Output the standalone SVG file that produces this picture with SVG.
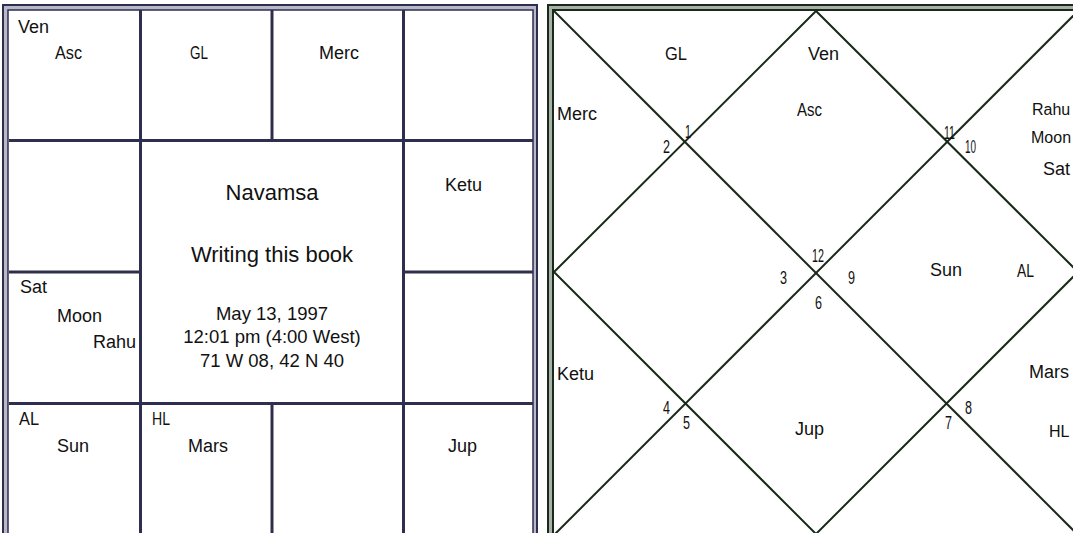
<svg xmlns="http://www.w3.org/2000/svg" width="1073" height="533" viewBox="0 0 1073 533">
<style>
.p{font-family:"Liberation Sans",Arial,sans-serif;font-size:18px;fill:#111}
.c{font-family:"Liberation Sans",Arial,sans-serif;font-size:19px;fill:#111}
.d{font-family:"Liberation Sans",Arial,sans-serif;font-size:18px;fill:#111}
.big{font-family:"Liberation Sans",Arial,sans-serif;font-size:22px;fill:#111;text-anchor:middle}
.mid{font-family:"Liberation Sans",Arial,sans-serif;font-size:18.5px;fill:#111;text-anchor:middle}
.edge{font-family:"Liberation Sans",Arial,sans-serif;font-size:16px;fill:#111}
.sgrid{stroke:#2e2e4e;stroke-width:3;fill:none}
.ngrid{stroke:#1a2a1a;stroke-width:2;fill:none}
</style>
<rect width="1073" height="533" fill="#fff"/>

<g id="south-chart">
  <g id="south-frame">
    <rect x="3" y="5" width="534" height="545" fill="#b8b8c8" stroke="#2e2e4e" stroke-width="2"/>
    <rect x="8" y="10" width="525" height="535" fill="#fff" stroke="#2e2e4e" stroke-width="1.5"/>
  </g>
  <g id="south-lines" class="sgrid">
    <line x1="9" y1="140.5" x2="533" y2="140.5"/>
    <line x1="9" y1="403.5" x2="533" y2="403.5"/>
    <line x1="9" y1="272" x2="140.5" y2="272"/>
    <line x1="403.5" y1="272" x2="533" y2="272"/>
    <line x1="140.5" y1="10" x2="140.5" y2="545"/>
    <line x1="403.5" y1="10" x2="403.5" y2="545"/>
    <line x1="272" y1="10" x2="272" y2="140.5"/>
    <line x1="272" y1="403.5" x2="272" y2="545"/>
  </g>
  <g id="s-pisces"><text class="p" x="18" y="33">Ven</text><text class="c" x="55" y="59" textLength="27" lengthAdjust="spacingAndGlyphs">Asc</text></g>
  <g id="s-aries"><text class="c" x="190" y="59" textLength="18" lengthAdjust="spacingAndGlyphs">GL</text></g>
  <g id="s-taurus"><text class="p" x="319" y="59">Merc</text></g>
  <g id="s-gemini"></g>
  <g id="s-cancer"><text class="p" x="445" y="191">Ketu</text></g>
  <g id="s-leo"></g>
  <g id="s-virgo"><text class="p" x="448" y="452">Jup</text></g>
  <g id="s-libra"></g>
  <g id="s-scorpio"><text class="c" x="152" y="425" textLength="18" lengthAdjust="spacingAndGlyphs">HL</text><text class="p" x="188" y="452">Mars</text></g>
  <g id="s-sagittarius"><text class="c" x="19" y="425" textLength="20" lengthAdjust="spacingAndGlyphs">AL</text><text class="p" x="57" y="452">Sun</text></g>
  <g id="s-capricorn"><text class="p" x="20" y="293">Sat</text><text class="p" x="57" y="322">Moon</text><text class="p" x="93" y="348">Rahu</text></g>
  <g id="s-aquarius"></g>
  <g id="s-center">
    <text class="big" x="272" y="200">Navamsa</text>
    <text class="big" x="272" y="262">Writing this book</text>
    <text class="mid" x="272" y="320">May 13, 1997</text>
    <text class="mid" x="272" y="343">12:01 pm (4:00 West)</text>
    <text class="mid" x="272" y="367">71 W 08, 42 N 40</text>
  </g>
</g>

<g id="north-chart">
  <g id="north-frame">
    <rect x="548" y="5" width="540" height="545" fill="#a8b0a8" stroke="#1a2a1a" stroke-width="2"/>
    <rect x="553" y="10" width="530" height="535" fill="#fff" stroke="#1a2a1a" stroke-width="2"/>
  </g>
  <g id="north-lines" class="ngrid">
    <line x1="554" y1="11" x2="1078" y2="535"/>
    <line x1="1078" y1="11" x2="554" y2="535"/>
    <polygon points="816,11 554,272 816,534 1078,272"/>
  </g>
  <g id="h1"><text class="d" x="685" y="138" textLength="6" lengthAdjust="spacingAndGlyphs">1</text><text class="p" x="808" y="60">Ven</text><text class="c" x="797" y="116" textLength="25" lengthAdjust="spacingAndGlyphs">Asc</text></g>
  <g id="h2"><text class="d" x="663" y="153" textLength="7" lengthAdjust="spacingAndGlyphs">2</text><text class="c" x="665" y="60" textLength="22" lengthAdjust="spacingAndGlyphs">GL</text></g>
  <g id="h3"><text class="d" x="780" y="284" textLength="7" lengthAdjust="spacingAndGlyphs">3</text><text class="p" x="557" y="120">Merc</text></g>
  <g id="h4"><text class="d" x="663" y="414" textLength="7" lengthAdjust="spacingAndGlyphs">4</text></g>
  <g id="h5"><text class="d" x="683" y="429" textLength="7" lengthAdjust="spacingAndGlyphs">5</text><text class="p" x="557" y="380">Ketu</text></g>
  <g id="h6"><text class="d" x="815" y="309" textLength="7" lengthAdjust="spacingAndGlyphs">6</text></g>
  <g id="h7"><text class="d" x="945" y="429" textLength="7" lengthAdjust="spacingAndGlyphs">7</text><text class="p" x="795" y="435">Jup</text></g>
  <g id="h8"><text class="d" x="965" y="414" textLength="7" lengthAdjust="spacingAndGlyphs">8</text></g>
  <g id="h9"><text class="d" x="848" y="284" textLength="7" lengthAdjust="spacingAndGlyphs">9</text><text class="p" x="1029" y="378">Mars</text><text class="edge" x="1049" y="437">HL</text></g>
  <g id="h10"><text class="d" x="965" y="153" textLength="11" lengthAdjust="spacingAndGlyphs">10</text><text class="p" x="930" y="276">Sun</text><text class="c" x="1017" y="277" textLength="17" lengthAdjust="spacingAndGlyphs">AL</text></g>
  <g id="h11"><text class="d" x="944" y="139" textLength="11" lengthAdjust="spacingAndGlyphs">11</text><text class="edge" x="1032" y="115">Rahu</text><text class="edge" x="1031" y="143">Moon</text><text class="p" x="1043" y="175">Sat</text></g>
  <g id="h12"><text class="d" x="812" y="262" textLength="12" lengthAdjust="spacingAndGlyphs">12</text></g>
</g>
</svg>
